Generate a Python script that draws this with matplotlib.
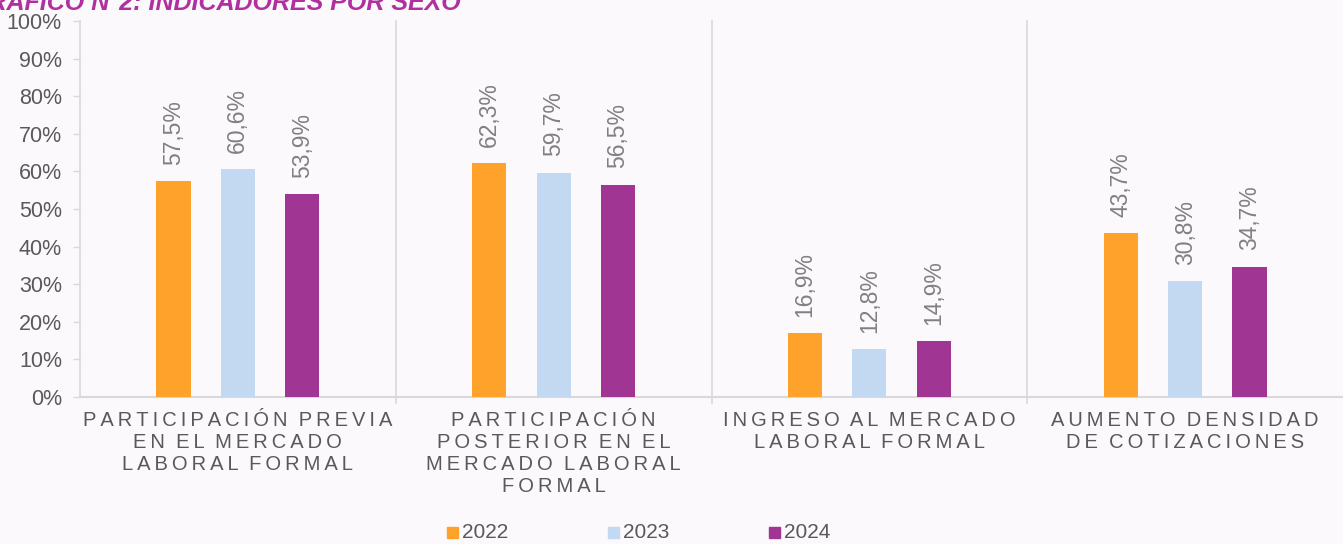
import numpy as np
import matplotlib.pyplot as plt
from matplotlib.patches import Rectangle

plt.rcParams['font.family'] = ['Liberation Sans', 'DejaVu Sans']

categories = [
    "PARTICIPACIÓN PREVIA\nEN EL MERCADO\nLABORAL FORMAL",
    "PARTICIPACIÓN\nPOSTERIOR EN EL\nMERCADO LABORAL\nFORMAL",
    "INGRESO AL MERCADO\nLABORAL FORMAL",
    "AUMENTO DENSIDAD\nDE COTIZACIONES",
]
years = ["2022", "2023", "2024"]
values_2022 = [57.5, 62.3, 16.9, 43.7]
values_2023 = [60.6, 59.7, 12.8, 30.8]
values_2024 = [53.9, 56.5, 14.9, 34.7]
yticks = list(range(0, 101, 10))

colors = ["#FFA22B", "#C3D9F1", "#A03594"]
bg = "#FBF9FC"


def spaced(text):
    # emulate letter spacing of the original labels
    return "\n".join("\u2009".join(line).replace("\u2009 \u2009", "  ")
                     for line in text.split("\n"))


fig = plt.figure(figsize=(13.43, 5.44), dpi=100, facecolor=bg)
ax = fig.add_axes([80 / 1343, 1 - 397 / 544, 1263 / 1343, 376 / 544])
ax.set_facecolor(bg)

x = np.arange(len(categories))
width = 0.108
offsets = [-0.204, 0.0, 0.204]
series = [values_2022, values_2023, values_2024]

for vals, off, col, yr in zip(series, offsets, colors, years):
    bars = ax.bar(x + off, vals, width, color=col, label=yr, zorder=3)
    for b, v in zip(bars, vals):
        ax.text(b.get_x() + b.get_width() / 2, v + 4.3,
                f"{v:.1f}%".replace(".", ","), rotation=90,
                ha="center", va="bottom", fontsize=16.5, color="#808080")

ax.set_xlim(-0.5, len(categories) - 0.5)
ax.set_ylim(0, 100)
ax.set_yticks(yticks)
ax.set_yticklabels([f"{t}%" for t in yticks], fontsize=15.5, color="#595959")
ax.tick_params(axis="y", length=5, color="#D9D9D9", width=1, pad=8)
ax.set_xticks([])

for s in ["top", "right"]:
    ax.spines[s].set_visible(False)
ax.spines["left"].set_color("#D9D9D9")
ax.spines["bottom"].set_color("#D9D9D9")
ax.spines["left"].set_linewidth(1.2)
ax.spines["bottom"].set_linewidth(1.5)

# category separators
for i in range(1, len(categories)):
    ax.plot([i - 0.5, i - 0.5], [-1.5, 100], color="#D9D9D9", lw=1.2,
            clip_on=False, zorder=1)

for i, cat in enumerate(categories):
    ax.text(i, -3.6, spaced(cat), ha="center", va="top", fontsize=14.5,
            color="#595959", linespacing=1.22, transform=ax.transData)

# legend
legend_x = [447, 608, 769]
for xpx, col, yr in zip(legend_x, colors, years):
    fig.patches.append(Rectangle((xpx / 1343, 1 - 538 / 544), 11 / 1343, 11 / 544,
                                 transform=fig.transFigure, color=col))
    fig.text((xpx + 15) / 1343, 1 - 532.5 / 544, yr, fontsize=15,
             color="#595959", va="center", ha="left")

# clipped title at the top
fig.text(-31 / 1343, 1 - 10.5 / 544, "GRÁFICO N°2: INDICADORES POR SEXO",
         fontsize=18, fontweight="bold", fontstyle="italic", color="#B0309F",
         ha="left", va="baseline")

fig.savefig("out.png", dpi=100, facecolor=bg)
